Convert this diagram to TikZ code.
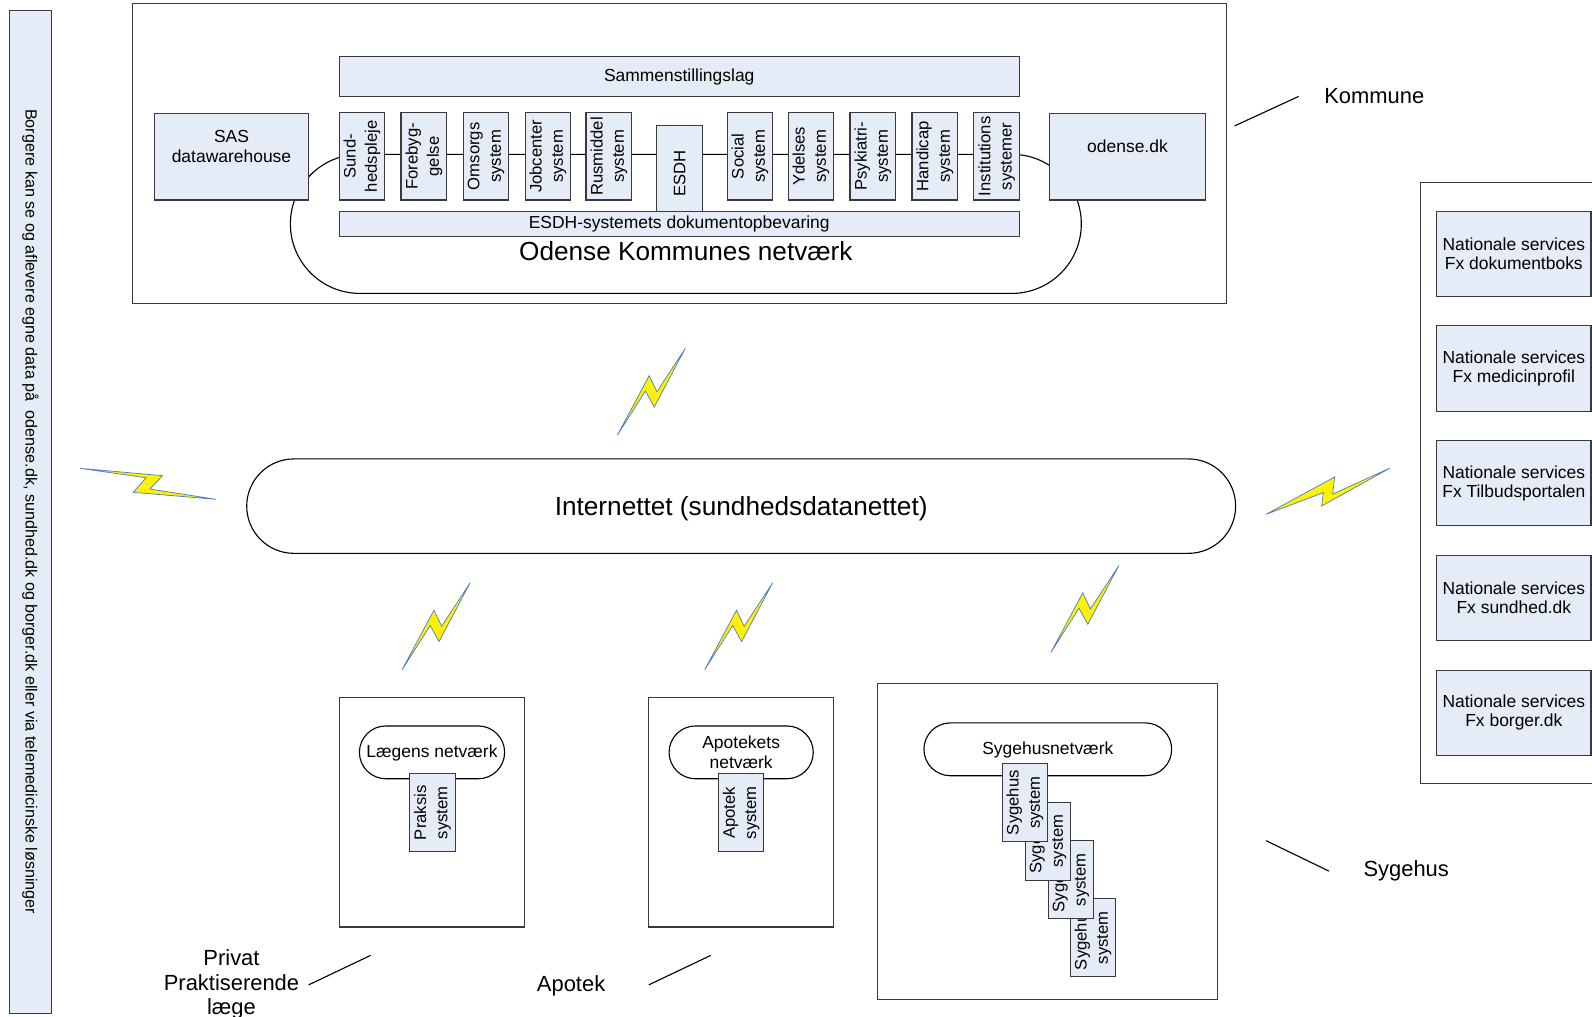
\documentclass[tikz,border=0pt]{standalone}
\usepackage{fontspec}
\setmainfont{Liberation Sans}
\usetikzlibrary{shapes.misc}
\definecolor{boxblue}{HTML}{E6ECF7}
\definecolor{boxline}{HTML}{3A3A3A}
\definecolor{boltblue}{HTML}{4A7EC8}
\newcommand{\sizetext}[2]{\fontsize{#1}{#2}\selectfont}
\newcommand{\upbolt}[2]{\draw[bolt] (#1-67,#2+85.7) -- (#1-35.6,#2+27) -- (#1-28,#2+42.8) -- (#1,#2) -- (#1-30.6,#2+57.9) -- (#1-39.3,#2+42.1) -- cycle;}
\tikzset{
  every node/.style={font=\sizetext{17.2}{19}, align=center, inner sep=0pt},
  bluebox/.style={draw=boxline, fill=boxblue, line width=1.1pt, minimum width=#1},
  sysbox/.style={bluebox=86, minimum height=45, rotate=90, font=\sizetext{16.4}{21}},
  tallbox/.style={bluebox=77, minimum height=44.5, rotate=90, font=\sizetext{16.4}{21}},
  natbox/.style={bluebox=152, minimum height=84},
  netpill/.style={draw=black, fill=white, rounded rectangle, line width=1.1pt},
  outerbox/.style={draw=boxline, line width=1.1pt},
  leader/.style={draw=black, line width=1.1pt},
  bolt/.style={draw=boltblue, fill=yellow, line width=.7pt, line join=miter},
  biglabel/.style={font=\sizetext{21.6}{24}}
}
\begin{document}
\begin{tikzpicture}[x=1pt,y=-1pt]
    \useasboundingbox (0,0) rectangle (1568,1001);
    % borger bar
    \node[bluebox=988, minimum height=42, rotate=-90, font=\sizetext{15.9}{19}] (borger) at (30,504) {Borgere kan se og aflevere egne data på\ \ odense.dk, sundhed.dk og borger.dk eller via telemedicinske løsninger};

    % kommune
    \draw[outerbox] (130.5,3.5) rectangle (1208,298.5);
    \node[netpill, minimum width=779, minimum height=137] (komnet) at (675.5,220.5) {};
    \node[bluebox=670, minimum height=39] (samlag) at (669,75.5) {Sammenstillingslag};
    \node[bluebox=152, minimum height=85] (sas) at (228,154.5) {SAS\\datawarehouse\\[-4pt]\strut};
    \node[bluebox=153, minimum height=85] (odense) at (1110.5,154.5) {odense.dk\\[-4pt]\strut};
    \node[sysbox] (sund) at (356.5,154) {Sund-\\hedspleje};
    \node[sysbox] (forebyg) at (417.5,154) {Forebyg-\\gelse};
    \node[sysbox] (omsorg) at (478.7,154) {Omsorgs\\system};
    \node[sysbox] (jobcenter) at (539.7,154) {Jobcenter\\system};
    \node[sysbox] (rusmiddel) at (599.7,154) {Rusmiddel\\system};
    \node[bluebox=84, minimum height=46, rotate=90, font=\sizetext{16.4}{21}] (esdh) at (669.3,166) {ESDH\hspace{10pt}};
    \node[sysbox] (social) at (738.7,154) {Social\\system};
    \node[sysbox] (ydelses) at (798.7,154) {Ydelses\\system};
    \node[sysbox] (psykiatri) at (859.7,154) {Psykiatri-\\system};
    \node[sysbox] (handicap) at (920.7,154) {Handicap\\system};
    \node[sysbox] (institution) at (981.7,154) {Institutions\\systemer};
    \node[bluebox=670, minimum height=25] (esdhlag) at (669,220.5) {ESDH-systemets dokumentopbevaring};
    \node[font=\sizetext{25.8}{30}] (komtekst) at (675.5,247) {Odense Kommunes netværk};

    % internet
    \node[netpill, minimum width=974, minimum height=93, font=\sizetext{25.8}{30}, text height=23] (internet) at (730,498.5) {Internettet (sundhedsdatanettet)};

    % lyn
    \upbolt{675}{343}
    \upbolt{463}{574}
    \upbolt{761}{574}
    \upbolt{1102}{557}
    \draw[bolt] (79,461.3) -- (160.2,468.5) -- (147.7,481.7) -- (212.8,491.8) -- (131.2,484.9) -- (144,470.5) -- cycle;
    \draw[bolt] (1246.9,506.6) -- (1314.5,469.8) -- (1312.6,486.6) -- (1369,461) -- (1301.7,498.4) -- (1303.4,485.2) -- cycle;

    % nationale services
    \draw[outerbox] (1575,180) -- (1399.5,180) -- (1399.5,772) -- (1575,772);
    \node[natbox] (nat1) at (1491,250) {Nationale services\\Fx dokumentboks};
    \node[natbox] (nat2) at (1491,363) {Nationale services\\Fx medicinprofil};
    \node[natbox] (nat3) at (1491,476) {Nationale services\\Fx Tilbudsportalen};
    \node[natbox] (nat4) at (1491,589) {Nationale services\\Fx sundhed.dk};
    \node[natbox] (nat5) at (1491,702) {Nationale services\\Fx borger.dk};

    % praksis
    \draw[outerbox] (334,687) rectangle (517,913);
    \node[netpill, minimum width=143, minimum height=52, text height=13.5] (laegenet) at (425.5,741) {Lægens netværk};
    \node[tallbox] (praksis) at (426,800.5) {Praksis\\system};

    % apotek
    \draw[outerbox] (639,687) rectangle (821,913);
    \node[netpill, minimum width=142, minimum height=52] (apoteknet) at (730,741) {Apotekets\\netværk};
    \node[tallbox] (apoteksys) at (730,800.5) {Apotek\\system};

    % sygehus
    \draw[outerbox] (864,673) rectangle (1199,984);
    \node[netpill, minimum width=244, minimum height=52, text height=13.5] (sygenet) at (1032,738) {Sygehusnetværk};
    \node[tallbox] (syge4) at (1076.5,923.5) {Sygehus\\system};
    \node[tallbox] (syge3) at (1054.5,866.5) {Sygehus\\system};
    \node[tallbox] (syge2) at (1032,828.5) {Sygehus\\system};
    \node[tallbox] (syge1) at (1009.5,790.5) {Sygehus\\system};

    % navne
    \node[biglabel] (kommune) at (1353.5,94.3) {Kommune};
    \coordinate (kommuneA) at (1216,124);
    \coordinate (kommuneB) at (1279,95);
    \draw[leader] (kommuneA) -- (kommuneB);
    \node[biglabel] (sygehus) at (1385,857.5) {Sygehus};
    \coordinate (sygehusA) at (1247,828);
    \coordinate (sygehusB) at (1309,858);
    \draw[leader] (sygehusA) -- (sygehusB);
    \node[biglabel] (apotek) at (562.5,970.5) {Apotek};
    \coordinate (apotekA) at (639,970);
    \coordinate (apotekB) at (700,941);
    \draw[leader] (apotekA) -- (apotekB);
    \node[biglabel] (laege) at (228,969.5) {Privat\\Praktiserende\\læge};
    \coordinate (laegeA) at (304,970);
    \coordinate (laegeB) at (365,941);
    \draw[leader] (laegeA) -- (laegeB);
\end{tikzpicture}
\end{document}
